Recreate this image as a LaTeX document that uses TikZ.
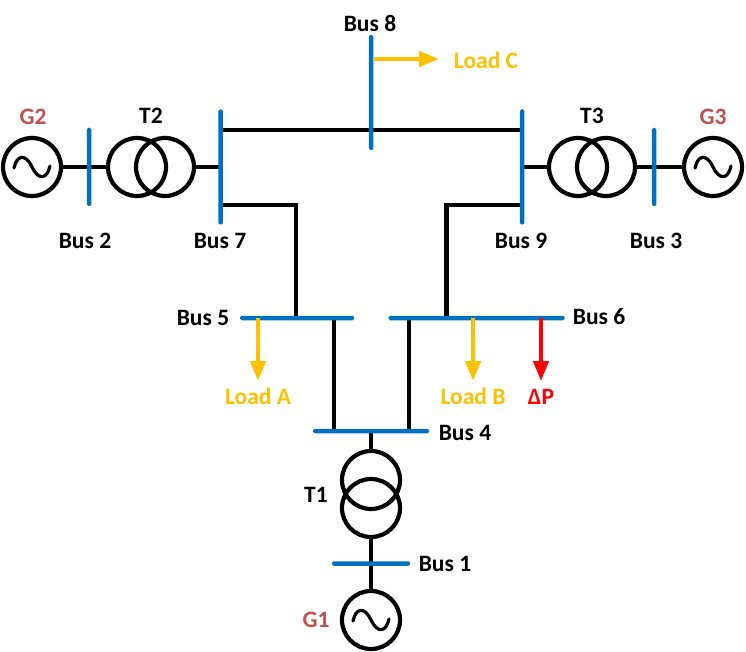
\documentclass[tikz,border=0pt]{standalone}
\usepackage{fontspec}
\setmainfont{Carlito}
\usetikzlibrary{arrows.meta}
\pgfdeclarelayer{wires}
\pgfsetlayers{wires,main}
\definecolor{busblue}{HTML}{0070C0}
\definecolor{loadyellow}{HTML}{FFC000}
\definecolor{genred}{HTML}{C0504D}
\tikzset{
  wire/.style={draw=black,line width=4.2pt},
  ring/.style={circle,draw=black,line width=4.2pt,minimum size=58pt,inner sep=0pt,outer sep=0pt},
  vbus/.style={rectangle,rounded corners=1.5pt,fill=busblue,minimum width=4.5pt,inner sep=0pt,outer sep=0pt},
  hbus/.style={rectangle,rounded corners=1.5pt,fill=busblue,minimum height=4.5pt,inner sep=0pt,outer sep=0pt},
  lbl/.style={font=\bfseries\fontsize{23.5}{25}\selectfont,inner sep=0pt},
  genlbl/.style={lbl,text=genred},
  loadlbl/.style={lbl,text=loadyellow},
  loadarrow/.style={draw=loadyellow,line width=4.4pt,-{Triangle[length=20pt,width=15pt]}},
  deltaarrow/.style={draw=red,line width=4.4pt,-{Triangle[length=20pt,width=15pt]}},
  sine/.style={draw=black,line width=3.2pt,line cap=round}
}
\newcommand{\sinewave}[1]{%
  \draw[sine] ([shift={(-18,1)}]#1.center) .. controls ([shift={(-15,-13)}]#1.center) and ([shift={(-6,-13)}]#1.center) .. (#1.center) .. controls ([shift={(6,13)}]#1.center) and ([shift={(15,13)}]#1.center) .. ([shift={(18,-1)}]#1.center);}
\begin{document}
\begin{tikzpicture}[x=1pt,y=-1pt]
\useasboundingbox (0,0) rectangle (746,652);
% generators
\node[ring] (g2) at (32,167) {};
\node[ring] (g3) at (713,167) {};
\node[ring] (g1) at (371,620) {};
\sinewave{g2}
\sinewave{g3}
\sinewave{g1}
% transformers
\node[ring] (t2a) at (137,167) {};
\node[ring] (t2b) at (165,167) {};
\node[ring] (t3a) at (578,167) {};
\node[ring] (t3b) at (606,167) {};
\node[ring] (t1a) at (371,480) {};
\node[ring] (t1b) at (371,508) {};
% buses
\node[vbus,minimum height=78pt] (b2) at (89,167) {};
\node[vbus,minimum height=78pt] (b3) at (654,167) {};
\node[vbus,minimum height=115pt] (b7) at (220.5,167) {};
\node[vbus,minimum height=115pt] (b9) at (522,167) {};
\node[vbus,minimum height=115pt] (b8) at (371,92.5) {};
\node[hbus,minimum width=114pt] (b5) at (297,318) {};
\node[hbus,minimum width=176pt] (b6) at (476.5,318) {};
\node[hbus,minimum width=116pt] (b4) at (371,431) {};
\node[hbus,minimum width=78pt] (b1) at (371,563.5) {};
% corner coordinates
\coordinate (c75) at (296,205);
\coordinate (c96) at (446.5,205);
\coordinate (a) at (258,381);
\coordinate (b) at (473,381);
\coordinate (d) at (541,381);
\coordinate (c) at (439,59);
\begin{pgfonlayer}{wires}
\draw[wire] (g2.east) -- (b2.center) -- (t2a.west);
\draw[wire] (t2b.east) -- (b7.center);
\draw[wire] (b9.center) -- (t3a.west);
\draw[wire] (t3b.east) -- (b3.center) -- (g3.west);
\draw[wire] (b7.center |- 0,130) -- (b9.center |- 0,130);
\draw[wire] (b7.center |- c75) -- (c75) -- (c75 |- b5.center);
\draw[wire] (b9.center |- c96) -- (c96) -- (c96 |- b6.center);
\draw[wire] (334,318) -- (334,431);
\draw[wire] (409,318) -- (409,431);
\draw[wire] (b4.center) -- (t1a.north);
\draw[wire] (t1b.south) -- (b1.center) -- (g1.north);
\end{pgfonlayer}
% load arrows
\draw[loadarrow] (a |- b5.center) -- (a);
\draw[loadarrow] (b |- b6.center) -- (b);
\draw[deltaarrow] (d |- b6.center) -- (d);
\draw[loadarrow] (b8.center |- c) ++(3,0) -- (c);
% labels
\node[lbl] (l8) at (370,23) {Bus 8};
\node[lbl] (l2) at (85,241) {Bus 2};
\node[lbl] (l7) at (220,241) {Bus 7};
\node[lbl] (l9) at (521,241) {Bus 9};
\node[lbl] (l3) at (656,241) {Bus 3};
\node[lbl] (l5) at (203,318) {Bus 5};
\node[lbl] (l6) at (599,317) {Bus 6};
\node[lbl] (l4) at (465,433) {Bus 4};
\node[lbl] (l1) at (445,564) {Bus 1};
\node[lbl] (lt2) at (151,116) {T2};
\node[lbl] (lt3) at (592,116) {T3};
\node[lbl] (lt1) at (316,495) {T1};
\node[genlbl] (lg2) at (33,117) {G2};
\node[genlbl] (lg3) at (713,117) {G3};
\node[genlbl] (lg1) at (316,620) {G1};
\node[loadlbl] (la) at (258,396) {Load A};
\node[loadlbl] (lb) at (473,396) {Load B};
\node[loadlbl] (lc) at (486,60) {Load C};
\node[lbl,text=red] (ldp) at (541,397) {ΔP};
\end{tikzpicture}
\end{document}
